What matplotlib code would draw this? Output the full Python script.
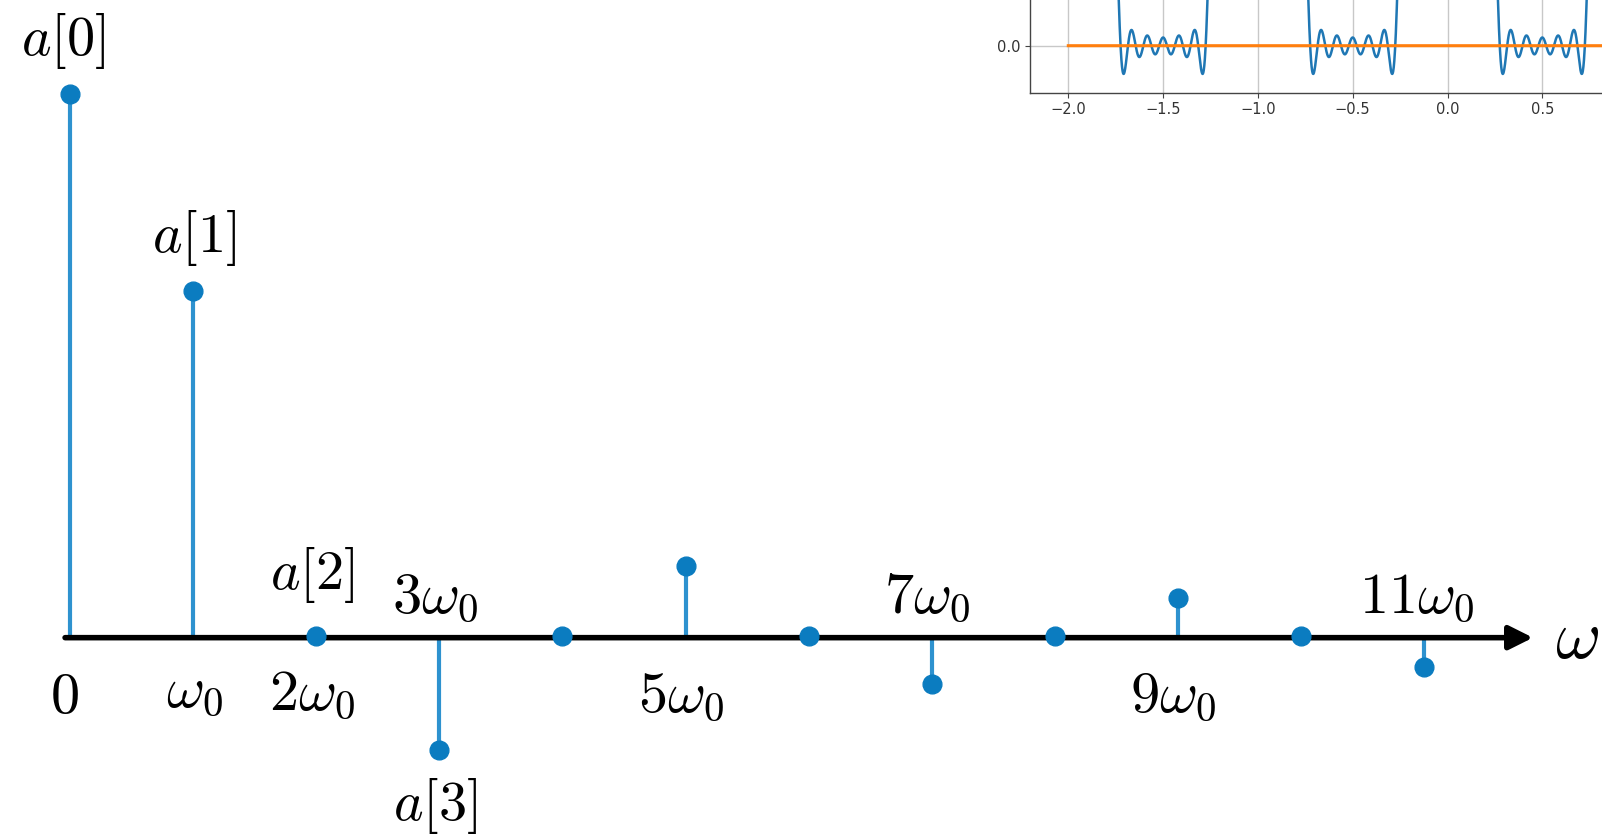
import numpy as np
import matplotlib
matplotlib.use("Agg")
import matplotlib.pyplot as plt
from matplotlib.patches import FancyArrowPatch
from matplotlib.ticker import StrMethodFormatter

plt.rcParams["mathtext.fontset"] = "cm"

# Fourier series coefficients a[k] of the square wave, k = 0..11
harmonics = [0, 1, 2, 3, 4, 5, 6, 7, 8, 9, 10, 11]
coefficients = [0.5, 0.318, 0.0, -0.106, 0.0, 0.064, 0.0, -0.045, 0.0, 0.035, 0.0, -0.029]

coef_label_ks = [0, 1, 2, 3]
coef_labels = ["$a[0]$", "$a[1]$", "$a[2]$", "$a[3]$"]

freq_label_ks = [0, 1, 2, 3, 5, 7, 9, 11]
freq_labels = ["$0$", r"$\omega_0$", r"$2\omega_0$", r"$3\omega_0$",
               r"$5\omega_0$", r"$7\omega_0$", r"$9\omega_0$", r"$11\omega_0$"]

# ticks of the time-domain panel that fall inside the figure
inset_xticks = [-2.0, -1.5, -1.0, -0.5, 0.0, 0.5]
inset_yticks = [0.0]

# label offsets in points (layout only)
coef_label_offsets = [(-5, 28), (1, 28.5), (-3, 33.5), (-3, -50)]
freq_label_offsets = [(-4, -55.5), (1, -51.5), (-3, -54), (-3, 16.5),
                      (-3, -55), (-3, 16.5), (-3.5, -55), (-5, 16.5)]

W, H, DPI = 1602, 839, 100
fig = plt.figure(figsize=(W / DPI, H / DPI), dpi=DPI)

# ---- spectrum (stem plot) ----
ax = fig.add_axes([0, 0, 1, 1])
ax.axis("off")
x0_px, dx_px = 70.0, 123.1          # pixel column of k=0, pixels per harmonic
y0_px, sy_px = 635.5, 1083.0        # pixel row of zero, pixels per unit amplitude
ax.set_xlim(-x0_px / dx_px, (W - x0_px) / dx_px)
ax.set_ylim(-(H - y0_px) / sy_px, y0_px / sy_px)

stem_color = "#2e92cf"
marker_color = "#0b7cc0"
markers, stemlines, baseline = ax.stem(harmonics, coefficients, basefmt="C3-")
stemlines.set_color(stem_color)
stemlines.set_linewidth(3.0)
stemlines.set_zorder(2)
markers.set_color(marker_color)
markers.set_markersize(13.5)
markers.set_zorder(5)
baseline.set_linewidth(2.0)
baseline.set_zorder(1)

# frequency axis arrow
arrow = FancyArrowPatch((-0.04, -0.002), ((1533 - x0_px) / dx_px, -0.002),
                        arrowstyle="-|>,head_length=0.4,head_width=0.2",
                        mutation_scale=36, lw=4, color="black",
                        shrinkA=0, shrinkB=0, zorder=3)
ax.add_patch(arrow)

for k, lab, off in zip(coef_label_ks, coef_labels, coef_label_offsets):
    ax.annotate(lab, (k, coefficients[k]), xytext=off, textcoords="offset points",
                ha="center", va="baseline", fontsize=40.5)

for k, lab, off in zip(freq_label_ks, freq_labels, freq_label_offsets):
    ax.annotate(lab, (k, 0), xytext=off, textcoords="offset points",
                ha="center", va="baseline", fontsize=42)

ax.text((1555 - x0_px) / dx_px, (y0_px - 658) / sy_px, r"$\omega$",
        ha="left", va="baseline", fontsize=50)

# ---- time-domain synthesis from the same coefficients ----
t = np.linspace(-2, 2, 4000)
signal = np.zeros_like(t, dtype=complex)
for k, c in zip(harmonics, coefficients):
    if k == 0:
        signal += c
    else:
        signal += c * (np.exp(2j * np.pi * k * t) + np.exp(-2j * np.pi * k * t))

inset = fig.add_axes([0, 0, 0.1, 0.1])
inset.plot(t, signal.real, color="C0", lw=1.8)
inset.plot(t, signal.imag, color="C1", lw=2.2)
fig.canvas.draw()
xl = inset.get_xlim()
yl = inset.get_ylim()
inset.grid(True, color="#c8c8c8", lw=1.0)
inset.set_xticks(inset_xticks)
inset.set_yticks(inset_yticks)
inset.yaxis.set_major_formatter(StrMethodFormatter("{x:.1f}"))
inset.set_xlim(xl)
inset.set_ylim(yl)
inset.tick_params(labelsize=10.5, colors="#444444", labelcolor="#333333")
for s in inset.spines.values():
    s.set_color("#444444")
    s.set_linewidth(1.0)
sx = 189.6                             # pixels per unit time
left_px = 1068.3 - (-2.0 - xl[0]) * sx
bottom_px = 92.5                       # measured from the top edge
sy = (bottom_px - 45.7) / (0 - yl[0])
w_px = (xl[1] - xl[0]) * sx
h_px = (yl[1] - yl[0]) * sy
inset.set_position([left_px / W, (H - bottom_px) / H, w_px / W, h_px / H])

fig.savefig("out.png", dpi=DPI)
